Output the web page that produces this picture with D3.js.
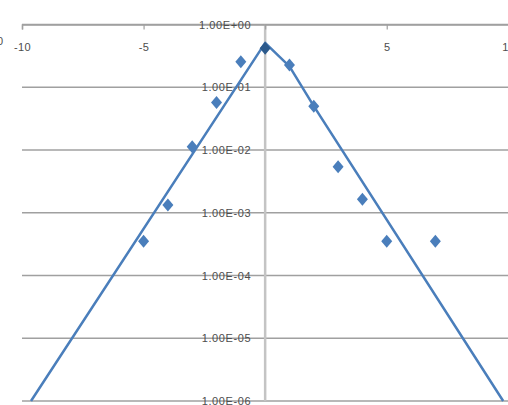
<!DOCTYPE html>
<html>
<head>
<meta charset="utf-8">
<script src="https://cdn.jsdelivr.net/npm/d3@7"></script>
<style>
  html, body { margin: 0; padding: 0; background: #fff; overflow: hidden; }
  svg { display: block; }
  text { font-family: "Liberation Sans", Arial, sans-serif; fill: #4d4d4d; }
</style>
</head>
<body>
<svg id="chart" width="508" height="405"></svg>
<script>
// ---- data ----
const xTickValues = [-10, -5, 0, 5, 10];
const xTickLabels = ["-10", "-5", "", "5", "10"];
const yTickValues = [1, 1e-1, 1e-2, 1e-3, 1e-4, 1e-5, 1e-6];
const yTickLabels = ["1.00E+00", "1.00E-01", "1.00E-02", "1.00E-03", "1.00E-04", "1.00E-05", "1.00E-06"];

const pointX = [-5, -4, -3, -2, -1, 0, 1, 2, 3, 4, 5, 7];
const pointY = [3.5e-4, 1.33e-3, 1.13e-2, 5.7e-2, 2.55e-1, 4.2e-1, 2.26e-1, 5.0e-2, 5.4e-3, 1.64e-3, 3.5e-4, 3.5e-4];

const fitX = [-9.63, 0, 1, 2, 9.79];
const fitY = [1e-6, 0.51, 0.215, 0.05, 1e-6];

// ---- drawing ----
const svg = d3.select("#chart");

const x = d3.scaleLinear().domain([-10, 10]).range([22, 508.3]);
const y = d3.scaleLog().domain([1e-6, 1]).range([401, 24.5]);

// horizontal gridlines
svg.append("g").selectAll("line")
  .data(yTickValues)
  .join("line")
  .attr("x1", x(-10)).attr("x2", x(10))
  .attr("y1", d => y(d)).attr("y2", d => y(d))
  .attr("stroke", "#a0a0a0").attr("stroke-width", 1.5);

// vertical axis (at x = 0)
svg.append("line")
  .attr("x1", x(0)).attr("x2", x(0))
  .attr("y1", y(1)).attr("y2", y(1e-6))
  .attr("stroke", "#c4c4c4").attr("stroke-width", 2.5);

// x axis at top (crosses at max y)
const xAxis = d3.axisBottom(x)
  .tickValues(xTickValues)
  .tickFormat((d, i) => xTickLabels[i])
  .tickSize(5).tickPadding(14);
const gx = svg.append("g").attr("transform", `translate(0,${y(1)})`).call(xAxis);
gx.select(".domain").attr("stroke", "#a0a0a0").attr("stroke-width", 1.5);
gx.selectAll(".tick line").attr("stroke", "#a0a0a0").attr("stroke-width", 1.2);
gx.selectAll(".tick text")
  .attr("font-size", 11).attr("letter-spacing", 0.4)
  .attr("fill", "#4d4d4d")
  .style("font-family", '"Liberation Sans", Arial, sans-serif');

// y tick labels, left of the vertical axis
svg.append("g").selectAll("text")
  .data(yTickValues)
  .join("text")
  .attr("x", x(0) - 14)
  .attr("y", d => y(d) + 4)
  .attr("text-anchor", "end")
  .attr("font-size", 11)
  .attr("letter-spacing", 0.6)
  .text((d, i) => yTickLabels[i]);

// partially visible label at left edge
svg.append("text").attr("x", -3).attr("y", 45).attr("font-size", 11).text("0");

// fitted line
const line = d3.line().x((d, i) => x(fitX[i])).y(d => y(d));
svg.append("path")
  .datum(fitY)
  .attr("d", line)
  .attr("fill", "none")
  .attr("stroke", "#4a7ebb")
  .attr("stroke-width", 2.5)
  .attr("stroke-linejoin", "round");

// diamonds
const hw = 5.5, hh = 6.5;
const diamond = `M0,${-hh}L${hw},0L0,${hh}L${-hw},0Z`;
svg.append("g").selectAll("path")
  .data(pointY)
  .join("path")
  .attr("d", diamond)
  .attr("transform", (d, i) => `translate(${x(pointX[i])},${y(d)})`)
  .attr("fill", (d, i) => pointX[i] === 0 ? "#2c5a8c" : "#4a7ebb");
</script>
</body>
</html>
